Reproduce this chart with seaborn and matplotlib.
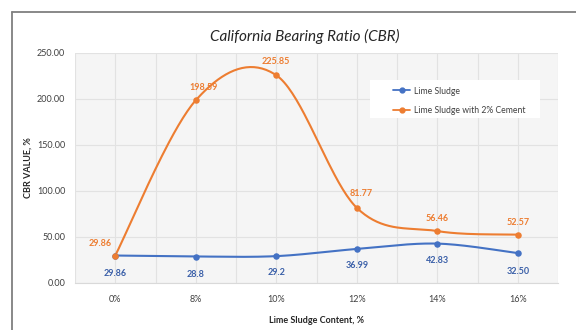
import numpy as np
import pandas as pd
import matplotlib
matplotlib.use("Agg")
import matplotlib.pyplot as plt
from matplotlib.lines import Line2D
from matplotlib.patches import Rectangle
import seaborn as sns

categories = ["0%", "8%", "10%", "12%", "14%", "16%"]
lime_sludge = [29.86, 28.8, 29.2, 36.99, 42.83, 32.50]
lime_cement = [29.86, 198.59, 225.85, 81.77, 56.46, 52.57]
lime_labels = ["29.86", "28.8", "29.2", "36.99", "42.83", "32.50"]
cement_labels = ["29.86", "198.59", "225.85", "81.77", "56.46", "52.57"]
yticks = [0, 50, 100, 150, 200, 250]

BLUE = "#4472C4"
ORANGE = "#ED7D31"
BLUE_TXT = "#3A5FA8"
ORANGE_TXT = "#ED7D31"

sns.set_theme(style="white")
plt.rcParams["font.family"] = ["Lato", "DejaVu Sans"]


def smooth(y, n=40):
    """Excel-like smoothed line: Catmull-Rom Bezier segments."""
    y = np.asarray(y, float)
    x = np.arange(len(y), dtype=float)
    xs, ys = [], []
    for i in range(len(y) - 1):
        p0 = (x[i - 1], y[i - 1]) if i > 0 else (x[i], y[i])
        p1 = (x[i], y[i])
        p2 = (x[i + 1], y[i + 1])
        p3 = (x[i + 2], y[i + 2]) if i + 2 < len(y) else (x[i + 1], y[i + 1])
        c1 = (p1[0] + (p2[0] - p0[0]) / 6, p1[1] + (p2[1] - p0[1]) / 6)
        c2 = (p2[0] - (p3[0] - p1[0]) / 6, p2[1] - (p3[1] - p1[1]) / 6)
        t = np.linspace(0, 1, n, endpoint=(i == len(y) - 2))
        b0 = (1 - t) ** 3
        b1 = 3 * (1 - t) ** 2 * t
        b2 = 3 * (1 - t) * t ** 2
        b3 = t ** 3
        xs.append(b0 * p1[0] + b1 * c1[0] + b2 * c2[0] + b3 * p2[0])
        ys.append(b0 * p1[1] + b1 * c1[1] + b2 * c2[1] + b3 * p2[1])
    return np.concatenate(xs), np.concatenate(ys)


fig = plt.figure(figsize=(5.76, 3.30), dpi=100)
ax = fig.add_axes([75 / 576, 1 - 283 / 330, 483 / 576, 230 / 330])
ax.set_facecolor("#F5F5F5")

# outer chart frame (top and left edges visible)
fy = 1 - 11.5 / 330
fx = 11.5 / 576
fig.add_artist(Line2D([fx, 1.0], [fy, fy], transform=fig.transFigure,
                      color="#7F7F7F", linewidth=1.3))
fig.add_artist(Line2D([fx, fx], [0.0, fy], transform=fig.transFigure,
                      color="#7F7F7F", linewidth=1.3))

xpos = np.arange(len(categories))
for vals, color in [(lime_sludge, BLUE), (lime_cement, ORANGE)]:
    sx, sy = smooth(vals)
    df_s = pd.DataFrame({"x": sx, "y": sy})
    sns.lineplot(data=df_s, x="x", y="y", ax=ax, color=color, linewidth=1.5,
                 sort=False, estimator=None, zorder=3)
    df_p = pd.DataFrame({"x": xpos, "y": vals})
    sns.scatterplot(data=df_p, x="x", y="y", ax=ax, color=color, s=22,
                    edgecolor=color, linewidth=0, zorder=4)

# data labels
blue_off = [(0, -13), (0, -13), (0, -12), (0, -12), (0, -12), (0, -13)]
orange_off = [(-11, 9), (6, 9), (0, 10), (3, 10), (0, 9), (0, 9)]
for i in range(len(categories)):
    ax.annotate(lime_labels[i], (xpos[i], lime_sludge[i]), textcoords="offset points",
                xytext=blue_off[i], ha="center", va="center", fontsize=6.5,
                color=BLUE_TXT, fontweight="bold", zorder=5)
    ax.annotate(cement_labels[i], (xpos[i], lime_cement[i]), textcoords="offset points",
                xytext=orange_off[i], ha="center", va="center", fontsize=6.5,
                color=ORANGE_TXT, fontweight="bold", zorder=5)

ax.set_xlim(-0.5, len(categories) - 0.5)
ax.set_ylim(0, 250)
ax.set_yticks(yticks)
ax.set_yticklabels([f"{v:.2f}" for v in yticks], fontsize=6.5, color="#404040")
ax.set_xticks(xpos)
ax.set_xticklabels(categories, fontsize=6.5, color="#404040")
ax.set_xticks(np.arange(-0.5, len(categories), 0.5), minor=True)
ax.grid(True, which="both", axis="x", color="#E2E2E2", linewidth=0.8)
ax.grid(True, which="major", axis="y", color="#E2E2E2", linewidth=0.8)
ax.set_axisbelow(True)
ax.tick_params(axis="both", which="both", length=0)
ax.tick_params(axis="x", pad=9)
ax.tick_params(axis="y", pad=7)
for s in ax.spines.values():
    s.set_visible(False)
ax.spines["bottom"].set_visible(True)
ax.spines["bottom"].set_color("#D9D9D9")
ax.spines["bottom"].set_linewidth(0.8)

ax.set_xlabel("Lime Sludge Content, %", fontsize=6.5, fontweight="bold",
              color="#262626", labelpad=8)
ax.set_ylabel("CBR VALUE, %", fontsize=6.5, fontweight="bold",
              color="#262626", labelpad=3)

fig.text(305 / 576, 1 - 36 / 330, "California Bearing Ratio (CBR)",
         ha="center", va="center", fontsize=11, style="italic", color="#262626")

# legend background box
ax.add_patch(Rectangle(((370 - 75) / 483, (283 - 118) / 230), 170 / 483, 38 / 230,
                       transform=ax.transAxes, facecolor="white", edgecolor="none",
                       zorder=6))
handles = [
    Line2D([0], [0], color=BLUE, lw=1.3, marker="o", markersize=3.5, label="Lime Sludge"),
    Line2D([0], [0], color=ORANGE, lw=1.3, marker="o", markersize=3.5,
           label="Lime Sludge with 2% Cement"),
]
leg = ax.legend(handles=handles, loc="upper left",
                bbox_to_anchor=((393 - 75) / 483, (283 - 86.5) / 230),
                frameon=False, fontsize=6.2, handlelength=2.0,
                borderpad=0, labelspacing=1.25, borderaxespad=0,
                handletextpad=0.4, labelcolor="#404040")
leg.set_zorder(7)

fig.savefig("out.png", dpi=100, facecolor="white")
